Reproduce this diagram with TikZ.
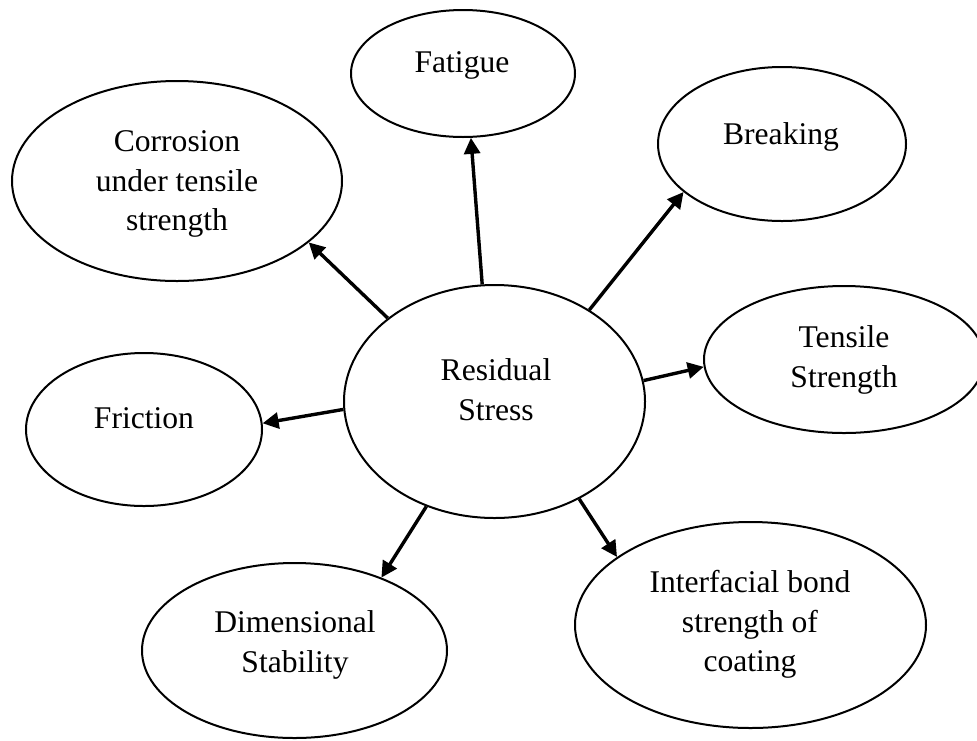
\documentclass[tikz,border=0pt]{standalone}
\usepackage{fontspec}
\setmainfont{Liberation Serif}
\usetikzlibrary{shapes.geometric,arrows.meta}
\begin{document}
\begin{tikzpicture}[x=1pt,y=-1pt,
  ell/.style={ellipse,draw,line width=2pt,inner sep=0pt},
  lbl/.style={anchor=north,align=center,inner sep=0pt,font=\fontsize{31.6}{39.5}\selectfont},
  arr/.style={line width=3.4pt,-{Triangle[length=16pt,width=16pt]}}]
\useasboundingbox (0,0) rectangle (977,740);
% ellipses
\node[ell,minimum width=301pt,minimum height=233pt] (rs) at (494.5,401.5) {};
\node[ell,minimum width=224pt,minimum height=127pt] (fat) at (463,73.5) {};
\node[ell,minimum width=330pt,minimum height=200pt] (cor) at (177,181) {};
\node[ell,minimum width=248pt,minimum height=154pt] (brk) at (782,144) {};
\node[ell,minimum width=280pt,minimum height=147pt] (ten) at (844,359.5) {};
\node[ell,minimum width=236pt,minimum height=153pt] (fri) at (144,429.5) {};
\node[ell,minimum width=305pt,minimum height=175pt] (dim) at (294.5,650.5) {};
\node[ell,minimum width=351pt,minimum height=206pt] (int) at (750.5,625) {};
% texts
\node[lbl] (rsT) at (496,358.5) {Residual\\Stress};
\node[lbl] (fatT) at (462,51.5) {Fatigue};
\node[lbl] (corT) at (177,130.5) {Corrosion\\under tensile\\strength};
\node[lbl] (brkT) at (781,122.5) {Breaking};
\node[lbl] (tenT) at (844,325.5) {Tensile\\Strength};
\node[lbl] (friT) at (144,407.5) {Friction};
\node[lbl] (dimT) at (295,610.5) {Dimensional\\Stability};
\node[lbl] (intT) at (750,570.5) {Interfacial bond\\strength of\\coating};
% arrows
\draw[arr] (rs.96) -- (fat.277.9);
\draw[arr] (rs.142.8) -- (cor.335.3);
\draw[arr] (rs.44.7) -- (brk.206.1);
\draw[arr] (rs.8.9) -- (ten.183.9);
\draw[arr] (rs.183.2) -- (fri.3.6);
\draw[arr] (rs.237.8) -- (dim.40.5);
\draw[arr] (rs.311.5) -- (int.153.4);
\end{tikzpicture}
\end{document}
